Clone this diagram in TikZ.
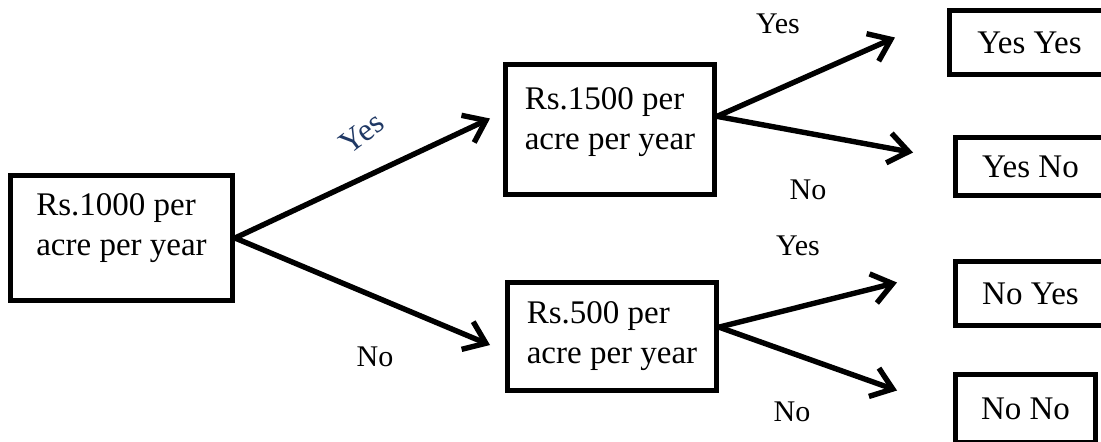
\documentclass[tikz,border=0pt]{standalone}
\usepackage{fontspec}
\setmainfont{Liberation Serif}
\usetikzlibrary{arrows.meta,calc}
\definecolor{yesblue}{HTML}{1F3864}
\tikzset{
  box/.style={draw,line width=2.5pt,inner sep=0pt,align=left,
    font=\fontsize{16.5}{20}\selectfont},
  branch/.style={line width=2.7pt,line cap=round,
    -{Straight Barb[length=10pt,width=15pt]}},
  choice/.style={font=\fontsize{15}{18}\selectfont},
}

\begin{document}
\begin{tikzpicture}[x=0.5pt,y=-0.5pt]
\useasboundingbox (0,0) rectangle (1101,441);
\clip (0,0) rectangle (1101,441);
% the three offers
\node[box,minimum width=111pt,minimum height=62.5pt,text depth=13pt] (root) at (121.5,238) {Rs.1000 per\\acre per year};
\node[box,minimum width=104.5pt,minimum height=65pt,text depth=11pt] (up) at (610,129.5) {Rs.1500 per\\acre per year};
\node[box,minimum width=104.5pt,minimum height=54pt] (down) at (612,336.5) {Rs.500 per\\acre per year};
% outcomes, cut off at the right edge
\node[box,minimum width=80pt,minimum height=32pt] (yy) at (1029.5,42.5) {Yes Yes};
\node[box,minimum width=75pt,minimum height=29pt] (yn) at (1030.5,166.5) {Yes No};
\node[box,minimum width=75pt,minimum height=32pt] (ny) at (1030.5,293.5) {No Yes};
\node[box,minimum width=70pt,minimum height=34pt] (nn) at (1025.5,408.5) {No No};
% branches
\draw[branch] (root.east) -- ($(up.west)+(-13,-11)$);
\draw[branch] (root.east) -- ($(down.west)+(-15,8.5)$);
\draw[branch] (up.7) -- ($(yy.west)+(-52,-5)$);
\draw[branch] (up.7) -- ($(yn.west)+(-40,-14)$);
\draw[branch] (down.5) -- ($(ny.west)+(-56,-11)$);
\draw[branch] (down.5) -- ($(nn.west)+(-56,-18)$);
% answers
\node[font=\fontsize{16}{19}\selectfont,text=yesblue,rotate=37] (yes1) at (362,133) {Yes};
\node[choice] (no1) at (375,357) {No};
\node[choice] (yes2) at (778,24) {Yes};
\node[choice] (no2) at (808,190) {No};
\node[choice] (yes3) at (798,246) {Yes};
\node[choice] (no3) at (792,412) {No};
\end{tikzpicture}
\end{document}
